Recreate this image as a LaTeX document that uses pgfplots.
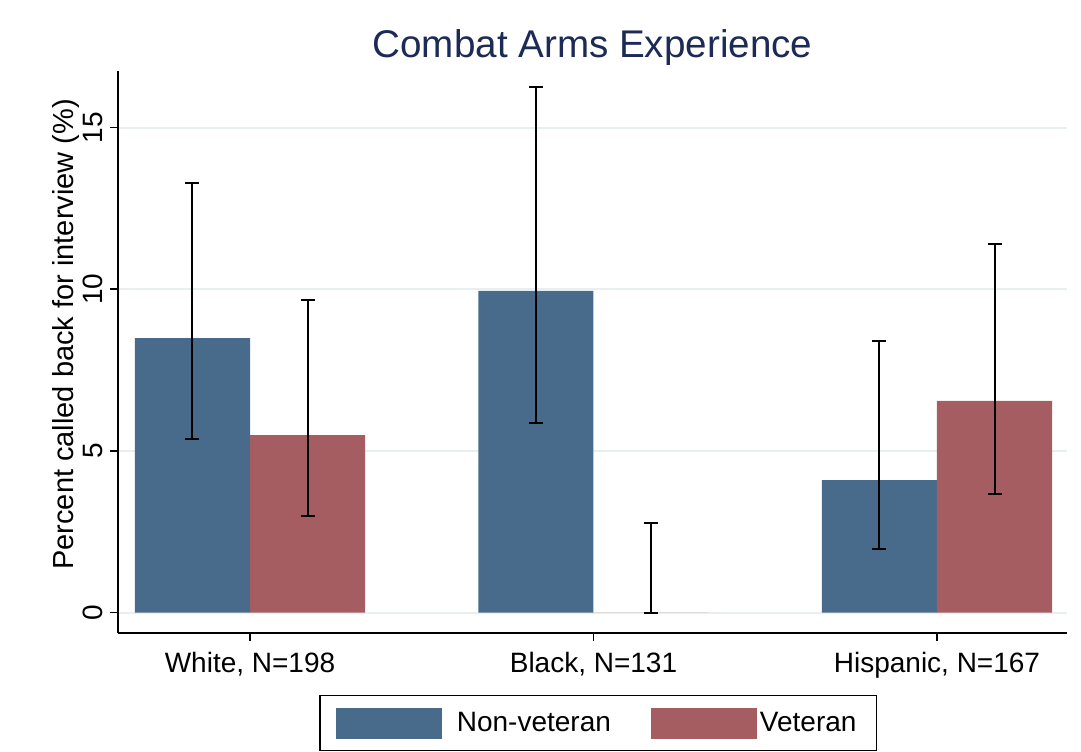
\documentclass[border=0pt]{standalone}
\usepackage{fontspec}
\setmainfont{Liberation Sans}
\usepackage{pgfplots}
\pgfplotsset{compat=1.18}

\definecolor{nvblue}{RGB}{73,107,139}
\definecolor{vred}{RGB}{166,93,97}
\definecolor{titleblue}{RGB}{28,42,86}
\definecolor{gridc}{RGB}{232,239,241}

\pgfplotsset{
    ci bars/.style={
        error bars/.cd,
        y dir=both, y explicit,
        error bar style={black, line width=1pt},
        error mark options={black, line width=1pt, mark size=3.5pt, rotate=90},
    },
}

\begin{document}
\begin{tikzpicture}
\begin{axis}[
    at={(0,0)}, anchor=south west,
    scale only axis,
    width=474.5pt, height=281.15pt,
    xmin=-0.3843, xmax=2.3785,
    ymin=-0.631, ymax=16.76,
    ybar,
    bar width=0.335,
    axis x line*=bottom, axis y line*=left,
    axis line style={-, line width=1pt},
    xtick={0,1,2},
    xticklabels={{White, N=198},{Black, N=131},{Hispanic, N=167}},
    ytick={0,5,10,15},
    tick align=outside,
    major tick length=4pt,
    tick style={black, line width=0.8pt},
    ymajorgrids=true,
    grid style={gridc, line width=1pt},
    /pgf/number format/assume math mode=true,
    yticklabel style={rotate=90, anchor=south, font=\fontsize{14}{16}\selectfont},
    xticklabel style={font=\fontsize{14}{16}\selectfont, yshift=-2pt},
    title={Combat Arms Experience},
    every axis title/.style={at={(axis description cs:0.5,1.0404)}, anchor=center,
        font=\fontsize{19.3}{22}\selectfont, text=titleblue},
    ylabel={Percent called back for interview (\%)},
    every axis y label/.style={at={(axis description cs:-0.0545,0.531)}, rotate=90,
        anchor=center, font=\fontsize{14.5}{16}\selectfont},
    legend columns=2,
    legend style={at={(axis description cs:0.506,-0.1099)}, anchor=north,
        draw=black, line width=0.8pt, font=\fontsize{14}{16}\selectfont,
        inner xsep=8pt, inner ysep=6pt,
        nodes={inner sep=0pt},
        /tikz/column 1/.style={column sep=7.5pt},
        /tikz/column 2/.style={column sep=20pt},
        /tikz/column 3/.style={column sep=1.5pt}},
    legend image code/.code={\path[#1, draw=none] (0pt,-7.75pt) rectangle (53pt,7.75pt);},
]
\addplot[fill=nvblue, draw=none, bar shift=-0.1675, ci bars]
    coordinates {
    (0,8.49) += (0,4.80) -= (0,3.12)
    (1,9.95) += (0,6.32) -= (0,4.09)
    (2,4.10) += (0,4.30) -= (0,2.14)
    };
\addplot[fill=vred, draw=none, bar shift=0.1675, ci bars]
    coordinates {
    (0,5.49) += (0,4.17) -= (0,2.50)
    (1,0) += (0,2.77) -= (0,0)
    (2,6.55) += (0,4.85) -= (0,2.89)
    };
\legend{Non-veteran, Veteran\hspace*{2pt}}
\end{axis}
\useasboundingbox (-59pt,-58.5pt) rectangle (481.5pt,316.5pt);
\end{tikzpicture}
\end{document}
